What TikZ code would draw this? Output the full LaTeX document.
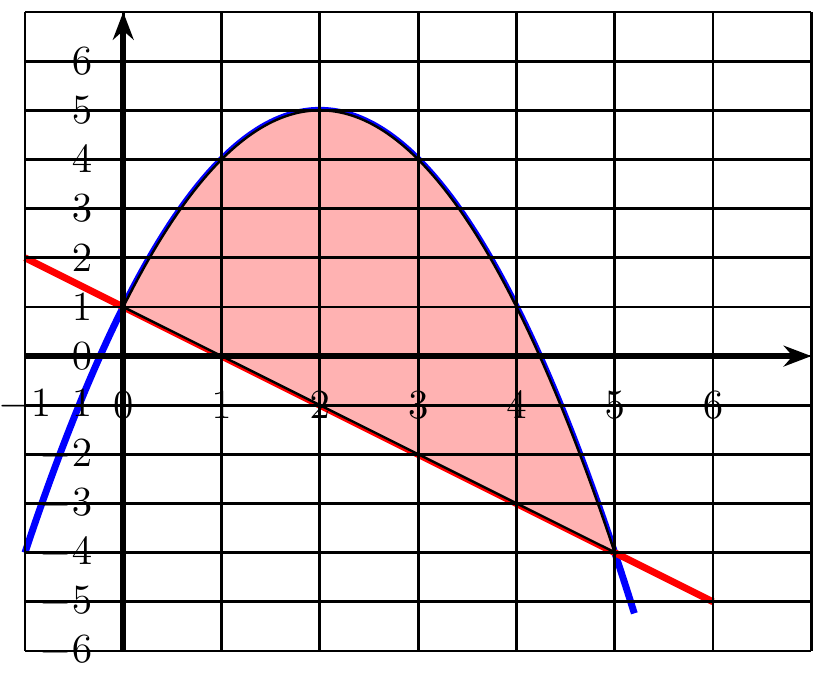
\documentclass[tikz,border=0pt]{standalone}
\usetikzlibrary{arrows.meta}
\begin{document}
\begin{tikzpicture}[x=1cm,y=0.5cm,
  gridline/.style={line width=0.8pt,black},
  axisline/.style={line width=1.7pt,black,-{Stealth[length=8pt,width=6pt]}},
  curve/.style={line width=2pt},
  lbl/.style={font=\large,inner sep=0pt}]
\useasboundingbox (-1.254,-6.49) rectangle (7.149,7.245);
% curves
\draw[curve,blue] plot[domain=-1:5.2,samples=120,smooth] (\x,{-\x*\x+4*\x+1});
\draw[curve,red] (-1,2) -- (6,-5);
% filled region
\fill[red!30,draw=black,line width=0.7pt]
  plot[domain=0:5,samples=100,smooth] (\x,{-\x*\x+4*\x+1}) -- (0,1) -- cycle;
% grid
\draw[gridline,step={(1,1)}] (-1,-6) grid (7,7);
% axes
\coordinate (xs) at (-1,0); \coordinate (xe) at (7,0);
\coordinate (ys) at (0,-6); \coordinate (ye) at (0,7);
\draw[axisline] (xs) -- (xe);
\draw[axisline] (ys) -- (ye);
% labels
\foreach \i in {-1,...,6} \node[lbl] (xl\i) at (\i,-1) {$\i$};
\foreach \i in {-6,...,6} \node[lbl,anchor=east] (yl\i) at (-0.31,\i) {$\i$};
\end{tikzpicture}
\end{document}
